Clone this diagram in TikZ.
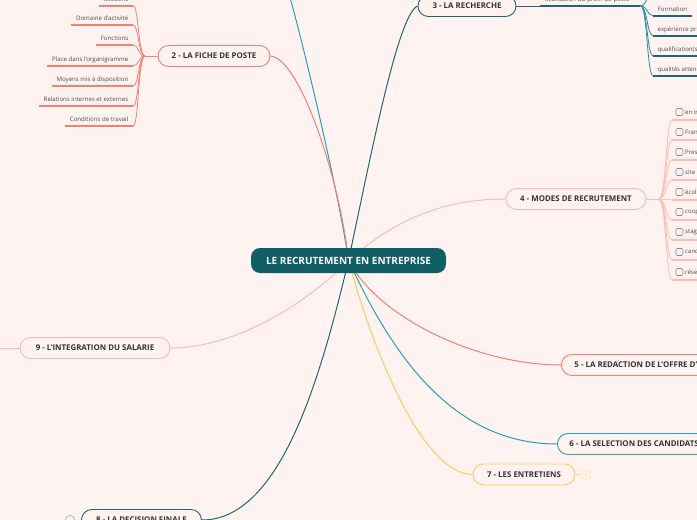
\documentclass[tikz,border=0pt]{standalone}
\usepackage{fontspec}
\setmainfont{Open Sans}
\usetikzlibrary{calc}
\definecolor{bg}{HTML}{FFF3F1}
\definecolor{ctr}{HTML}{105E66}
\definecolor{cteal}{HTML}{2A9EB2}
\definecolor{csal}{HTML}{F4806F}
\definecolor{cdark}{HTML}{1D6770}
\definecolor{cpink}{HTML}{FFBAB2}
\definecolor{cyel}{HTML}{FFCB5A}
\definecolor{txt}{HTML}{333333}
\definecolor{subt}{HTML}{4A4A4A}
\definecolor{boxc}{HTML}{8A8A8A}
\pgfdeclarelayer{bgfill}
\pgfdeclarelayer{back}
\pgfsetlayers{bgfill,back,main}
\begin{document}
\begin{tikzpicture}[x=1pt,y=-1pt,
  topic/.style={draw, line width=0.9pt, fill=bg, rounded corners=10.5pt, minimum height=21pt, inner xsep=0pt, text=txt, font=\fontsize{7.9}{9}\bfseries\selectfont},
  br/.style={line width=1pt},
  lf/.style={font=\fontsize{6.1}{7}\selectfont, text=subt, inner xsep=4.5pt, inner ysep=3pt, text height=4.4pt, text depth=1.3pt},
  lfL/.style={lf, anchor=south east},
  lfR/.style={lf, anchor=south west},
  ul/.style={line width=1.6pt},
  lk/.style={line width=0.8pt},
  cbox/.style={draw=boxc, line width=0.6pt, rounded corners=1.2pt, minimum size=7pt, inner sep=0pt},
  cbtxt/.style={font=\fontsize{6.1}{7}\selectfont, text=subt, anchor=west, inner sep=0pt},
  knob/.style={circle, draw, line width=0.6pt, fill=bg, minimum size=9.4pt, inner sep=0pt, font=\fontsize{4.5}{5}\bfseries\selectfont}
]
\useasboundingbox (0,0) rectangle (697,520);
\clip (0,0) rectangle (697,520);
\begin{pgfonlayer}{bgfill}
\fill[bg] (0,0) rectangle (697,520);
\end{pgfonlayer}

% central
\node[fill=ctr, rounded corners=9pt, minimum width=195pt, minimum height=25pt, inner sep=0pt, text=white, font=\fontsize{10}{12}\bfseries\selectfont] (c) at (348.5,260.5) {LE RECRUTEMENT EN ENTREPRISE};

% main topics
\coordinate (t1) at (289,-6);
\node[topic, draw=csal, minimum width=112pt] (n2) at (214,56) {2 - LA FICHE DE POSTE};
\node[topic, draw=cdark, minimum width=98pt] (n3) at (467,6) {3 - LA RECHERCHE};
\node[topic, draw=cpink, minimum width=140pt] (n4) at (576,199) {4 - MODES DE RECRUTEMENT};
\node[topic, draw=csal, anchor=west, inner xsep=13pt] (n5) at (561,365) {5 - LA REDACTION DE L'OFFRE D'EMPLOI};
\node[topic, draw=cteal, anchor=west, inner xsep=12pt] (n6) at (557,444) {6 - LA SELECTION DES CANDIDATS};
\node[topic, draw=cyel, minimum width=102pt] (n7) at (524,474.5) {7 - LES ENTRETIENS};
\node[topic, draw=cdark, anchor=west, minimum width=120pt] (n8) at (81,520) {8 - LA DECISION FINALE};
\node[topic, draw=cpink, minimum width=150pt] (n9) at (95,348) {9 - L'INTEGRATION DU SALARIE};

\node[knob, draw=cyel!55, text=cyel!60] (k7) at (586,475) {2};
\node[knob, draw=boxc!70] (k8) at (70,520) {};
\coordinate (l9) at (-6,348);

\begin{pgfonlayer}{back}
\draw[br, cteal] (c.center) .. controls (340,200) and (305,50) .. (t1);
\draw[br, csal] (c.center) .. controls (340,180) and (300,58) .. (n2.east);
\draw[br, cdark] (c.center) .. controls (372,150) and (398,15) .. (n3.west);
\draw[br, cpink] (c.center) .. controls (400,215) and (450,199) .. (n4.west);
\draw[br, csal] (c.center) .. controls (380,320) and (480,365) .. (n5.west);
\draw[br, cteal] (c.center) .. controls (390,350) and (450,444) .. (n6.west);
\draw[br, cyel] (c.center) .. controls (370,340) and (420,474) .. (n7.west);
\draw[br, cdark] (c.center) .. controls (320,380) and (280,520) .. (n8.east);
\draw[br, cpink] (c.center) .. controls (300,310) and (230,348) .. (n9.east);
\draw[br, cyel!70] (n7.east) -- (k7);
\draw[br, boxc!60] (n8.west) -- (k8);
\draw[br, cpink] (n9.west) -- (l9);
\end{pgfonlayer}

% ---- children of 2
\coordinate (j2) at (145,56);
\draw[br, csal] (n2.west) -- (j2);
\node[lfL] (a1) at (133,6) {Missions};
\node[lfL] (a2) at (133,25) {Domaine d'activité};
\node[lfL] (a3) at (133,45) {Fonctions};
\node[lfL] (a4) at (133,66) {Place dans l'organigramme};
\node[lfL] (a5) at (133,86) {Moyens mis à disposition};
\node[lfL] (a6) at (133,106) {Relations internes et externes};
\node[lfL] (a7) at (133,126) {Conditions de travail};
\foreach \a in {a1,a2,a3,a4,a5,a6,a7}{
  \draw[ul, csal] (\a.south west) -- (\a.south east);
  \draw[lk, csal] (j2) .. controls +(-7,0) and +(6,0) .. (\a.south east);
}

% ---- children of 3
\coordinate (j3a) at (540,6);
\draw[br, cdark] (n3.east) -- (j3a);
\node[lfR, minimum width=100pt, align=left, text width=91pt] (b0) at (540,5.7) {Réalisation du profil de poste};
\draw[ul, cdark] (b0.south west) -- (b0.south east);
\coordinate (j3) at (b0.south east);
\node[lfR] (b1) at (653,15.7) {Formation};
\node[lfR] (b2) at (653,35.7) {expérience professionnelle};
\node[lfR] (b3) at (653,55.7) {qualification(s) requise(s)};
\node[lfR] (b4) at (653,75.7) {qualités attendues};
\coordinate (b5) at (653,-8);
\foreach \b in {b1,b2,b3,b4}{
  \draw[ul, cdark] (\b.south west) -- (\b.south east);
  \draw[lk, cteal!70!cdark] (j3) .. controls +(7,0) and +(-6,0) .. (\b.south west);
}
\draw[lk, cteal!70!cdark] (j3) .. controls +(7,0) and +(-6,0) .. (b5);

% ---- children of 4
\coordinate (j4) at (659,199);
\draw[br, cpink] (n4.east) -- (j4);
\foreach \t [count=\i from 0] in {en interne, France Travail, Presse, site internet, écoles, cooptation, stagiaires, candidatures spontanées, réseaux sociaux}{
  \pgfmathsetmacro{\ry}{112+20*\i}
  \node[cbox] (cb\i) at (679.5,\ry) {};
  \node[cbtxt] (ct\i) at (685,\ry) {\t};
  \coordinate (u\i) at (672,\ry+8);
  \draw[ul, cpink] (u\i) -- +(40,0);
  \draw[lk, cpink] (j4) .. controls +(7,0) and +(-6,0) .. (u\i);
}
\end{tikzpicture}
\end{document}
